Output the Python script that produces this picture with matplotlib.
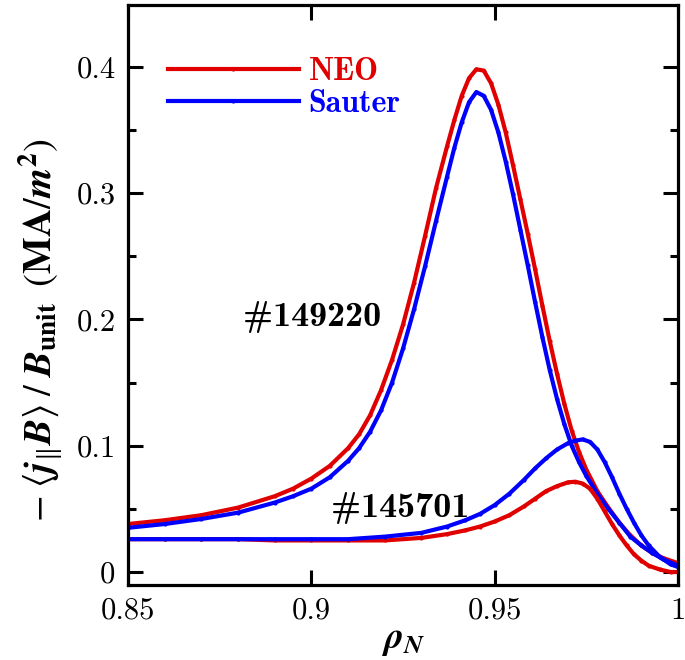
import matplotlib
matplotlib.use("Agg")
import matplotlib.pyplot as plt
import numpy as np

# shot 149220 (bootstrap current peak near rho=0.945)
rho_149220 = [0.850, 0.860, 0.870, 0.880, 0.890, 0.895, 0.900, 0.905, 0.910, 0.913,
              0.916, 0.919, 0.922, 0.925, 0.928, 0.931, 0.934, 0.937, 0.939, 0.941,
              0.943, 0.945, 0.947, 0.949, 0.951, 0.953, 0.955, 0.957, 0.959, 0.961,
              0.963, 0.965, 0.967, 0.969, 0.971, 0.973, 0.975, 0.978, 0.981, 0.984,
              0.987, 0.990, 0.993, 0.996, 1.000]
neo_149220 = [0.038, 0.041, 0.045, 0.051, 0.060, 0.066, 0.074, 0.084, 0.098, 0.109,
              0.124, 0.144, 0.168, 0.196, 0.229, 0.266, 0.304, 0.337, 0.358, 0.377,
              0.391, 0.398, 0.397, 0.387, 0.370, 0.348, 0.322, 0.295, 0.268, 0.240,
              0.211, 0.183, 0.157, 0.133, 0.112, 0.095, 0.081, 0.064, 0.051, 0.039,
              0.029, 0.021, 0.015, 0.011, 0.007]
sauter_149220 = [0.035, 0.038, 0.042, 0.047, 0.055, 0.060, 0.066, 0.075, 0.088, 0.098,
                 0.111, 0.128, 0.150, 0.177, 0.208, 0.242, 0.278, 0.313, 0.336, 0.356,
                 0.372, 0.380, 0.377, 0.366, 0.348, 0.325, 0.299, 0.271, 0.243, 0.214,
                 0.186, 0.160, 0.137, 0.117, 0.100, 0.087, 0.076, 0.062, 0.050, 0.039,
                 0.028, 0.021, 0.015, 0.010, 0.005]

# shot 145701 (peak further out, near rho=0.973)
rho_145701 = [0.850, 0.860, 0.870, 0.880, 0.890, 0.900, 0.910, 0.920, 0.930, 0.937,
              0.942, 0.946, 0.950, 0.954, 0.958, 0.961, 0.964, 0.967, 0.970, 0.972,
              0.974, 0.976, 0.978, 0.980, 0.982, 0.984, 0.986, 0.988, 0.990, 0.992,
              0.995, 0.998, 1.000]
neo_145701 = [0.026, 0.026, 0.026, 0.026, 0.025, 0.025, 0.025, 0.025, 0.027, 0.030,
              0.033, 0.036, 0.040, 0.045, 0.052, 0.058, 0.064, 0.068, 0.071, 0.0715,
              0.070, 0.066, 0.058, 0.048, 0.038, 0.029, 0.021, 0.014, 0.009, 0.005,
              0.002, 0.000, 0.000]
sauter_145701 = [0.026, 0.026, 0.026, 0.026, 0.026, 0.026, 0.026, 0.028, 0.031, 0.036,
                 0.041, 0.046, 0.053, 0.062, 0.073, 0.082, 0.090, 0.097, 0.102, 0.104,
                 0.105, 0.103, 0.097, 0.087, 0.075, 0.062, 0.050, 0.039, 0.029, 0.021,
                 0.012, 0.006, 0.004]

xticks = [0.85, 0.9, 0.95, 1.0]
xticklabels = ["0.85", "0.9", "0.95", "1"]
yticks = [0, 0.1, 0.2, 0.3, 0.4]
yticklabels = ["0", "0.1", "0.2", "0.3", "0.4"]

RED = "#e00000"
BLUE = "#0000ff"

plt.rcParams["font.family"] = "serif"
plt.rcParams["font.serif"] = ["cmr10"]
plt.rcParams["mathtext.fontset"] = "cm"
plt.rcParams["axes.formatter.use_mathtext"] = True

fig = plt.figure(figsize=(6.85, 6.6), dpi=100)
ax = fig.add_axes([0.187, 0.1136, 0.8028, 0.879])

line_kw = dict(lw=3.0, marker=".", ms=4)
ax.plot(rho_149220, neo_149220, color=RED, label="NEO", **line_kw)
ax.plot(rho_149220, sauter_149220, color=BLUE, label="Sauter", **line_kw)
ax.plot(rho_145701, neo_145701, color=RED, **line_kw)
ax.plot(rho_145701, sauter_145701, color=BLUE, **line_kw)

ax.set_xlim(0.85, 1.0)
ax.set_ylim(-0.0103, 0.449)
ax.set_xticks(xticks)
ax.set_xticklabels(xticklabels)
ax.set_yticks(yticks)
ax.set_yticklabels(yticklabels)
ax.set_yticks([0.05, 0.15, 0.25, 0.35], minor=True)
ax.tick_params(which="both", direction="in", top=True, right=True, width=2.2,
               labelsize=22)
ax.tick_params(which="major", length=11, pad=9)
ax.tick_params(which="minor", length=6)
for sp in ax.spines.values():
    sp.set_linewidth(2.3)

ax.set_xlabel(r"$\boldsymbol{\rho}_{\boldsymbol{N}}$", fontsize=27,
              math_fontfamily="stix", labelpad=0)
ax.set_ylabel(r"$-\;\left\langle \mathbfit{j}_{\|}\mathbfit{B}\right\rangle\;/\;\mathbfit{B}_{\mathbf{unit}}\;\;(\mathbf{MA}/\mathbfit{m}^{\mathbf{2}})$",
              fontsize=28, math_fontfamily="stix")
ax.yaxis.set_label_coords(-0.115, 0.44)

ax.text(0.8813, 0.202, "#149220", family="cmb10", fontsize=26, va="center", ha="left")
ax.text(0.9054, 0.051, "#145701", family="cmb10", fontsize=26, va="center", ha="left")

leg = ax.legend(loc="upper left", bbox_to_anchor=(0.02, 0.96), frameon=False,
                handlelength=4.1, handletextpad=0.3, labelspacing=0.1,
                numpoints=1, labelcolor="linecolor",
                prop={"family": "cmb10", "size": 23})

fig.savefig("out.png", dpi=100)
